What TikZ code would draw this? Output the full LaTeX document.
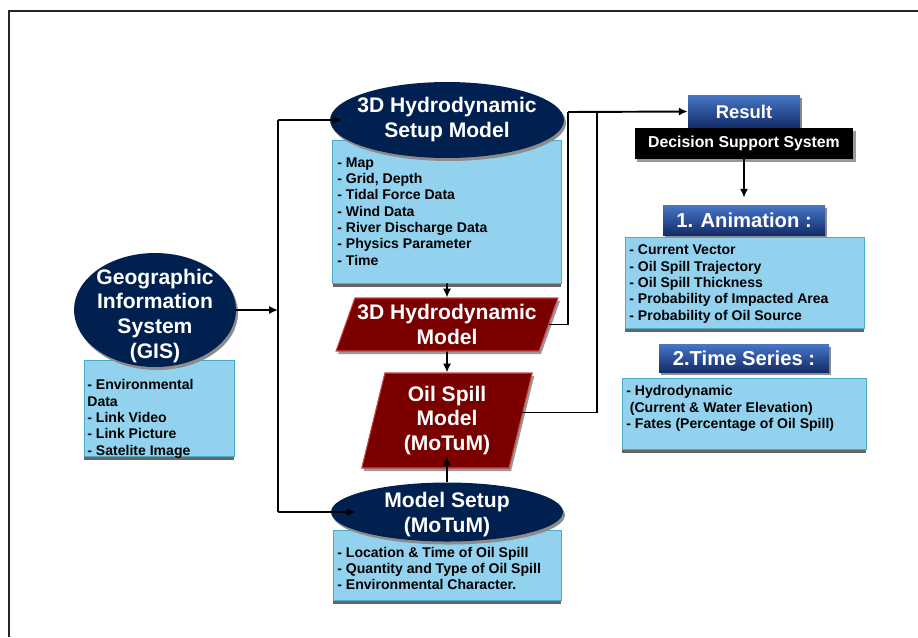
\documentclass[tikz,border=0pt]{standalone}
\usepackage{fontspec}
\setmainfont{Liberation Sans}
\usetikzlibrary{shapes.geometric,shadows,arrows.meta}

\definecolor{navy}{RGB}{0,33,80}
\definecolor{listblue}{RGB}{146,210,238}
\definecolor{listedge}{RGB}{75,172,198}
\definecolor{oilred}{RGB}{122,0,0}
\definecolor{oiledge}{RGB}{205,70,70}
\definecolor{headtop}{RGB}{72,118,200}
\definecolor{headbot}{RGB}{18,44,104}

\tikzset{
  navyell/.style={ellipse, fill=navy, inner sep=0pt,
    drop shadow={shadow xshift=0.04cm, shadow yshift=-0.06cm, fill=black!45, opacity=1}},
  title/.style={text=white, font=\fontsize{12}{14.2}\selectfont\bfseries, align=center, inner sep=0pt},
  listbox/.style={rectangle, fill=listblue, draw=listedge, line width=0.5pt,
    drop shadow={shadow xshift=0cm, shadow yshift=-0.08cm, fill=black!60, opacity=1}},
  listtext/.style={font=\fontsize{8}{9.3}\selectfont\bfseries, align=left, anchor=west, inner sep=0pt},
  para/.style={trapezium, trapezium stretches=true, fill=oilred, draw=oiledge, line width=0.6pt,
    inner sep=0pt, text=white, font=\fontsize{12}{14.2}\selectfont\bfseries, align=center,
    drop shadow={shadow xshift=0.04cm, shadow yshift=-0.06cm, fill=black!40, opacity=1}},
  header/.style={rectangle, top color=headtop, bottom color=headbot, text=white, inner sep=0pt,
    drop shadow={shadow xshift=0.04cm, shadow yshift=-0.05cm, fill=black!45, opacity=1}},
  line/.style={line width=1.1pt},
  link/.style={line width=1.1pt, ->, >={Latex[length=5pt,width=4.6pt]}}
}

\begin{document}
\begin{tikzpicture}[x=0.02cm, y=-0.02cm]
\useasboundingbox (0,0) rectangle (918,637);
\draw[line width=1.2pt, black!85] (9,637) |- (918,11);

% input boxes first, the ellipses lie over their top edge
\node[listbox, minimum width=3.0cm, minimum height=1.92cm] (gisbox) at (159,408) {};
\node[listbox, minimum width=4.58cm, minimum height=2.86cm] (setupbox) at (447,211.5) {};
\node[listbox, minimum width=4.56cm, minimum height=1.40cm] (msetupbox) at (447,565) {};

\node[navyell, minimum width=3.24cm, minimum height=2.28cm] (gis) at (155,310) {};
\node[title] (gistxt) at (155,316) {Geographic\\Information\\System\\(GIS)};
\node[navyell, minimum width=4.68cm, minimum height=1.52cm] (setupell) at (447,120) {};
\node[title] (setuptxt) at (447,120) {3D Hydrodynamic\\Setup Model};
\node[navyell, minimum width=4.64cm, minimum height=1.18cm] (msetupell) at (447,512) {};
\node[title] (msetuptxt) at (447,515) {Model Setup\\(MoTuM)};

\node[listtext] (gislist) at (87,419) {- Environmental\\Data\\- Link Video\\- Link Picture\\- Satelite Image};
\node[listtext] (setuplist) at (337,211.5) {- Map\\- Grid, Depth\\- Tidal Force Data\\- Wind Data\\- River Discharge Data\\- Physics Parameter\\- Time};
\node[listtext] (msetuplist) at (337,568.5) {- Location \& Time of Oil Spill\\- Quantity and Type of Oil Spill\\- Environmental Character.};

% models
\node[para, minimum width=4.44cm, minimum height=1.06cm,
  trapezium left angle=65.6, trapezium right angle=114.4] (hydro) at (447,324.5) {3D Hydrodynamic\\Model};
\node[para, minimum width=3.42cm, minimum height=1.90cm,
  trapezium left angle=77, trapezium right angle=103] (oil) at (447,420.5) {Oil Spill\\Model\\(MoTuM)};

% results column
\node[header, minimum width=2.24cm, minimum height=0.66cm, font=\fontsize{10.5}{12}\selectfont\bfseries] (result) at (744,111.5) {Result};
\node[rectangle, fill=black, text=white, inner sep=0pt, minimum width=4.38cm, minimum height=0.62cm,
  font=\fontsize{9}{10}\selectfont\bfseries,
  drop shadow={shadow xshift=0.05cm, shadow yshift=-0.05cm, fill=black!40, opacity=1}] (decision) at (744,143.5) {Decision Support System};
\node[header, minimum width=3.24cm, minimum height=0.60cm, font=\fontsize{11.5}{13}\selectfont\bfseries] (animhead) at (744,220) {1. Animation :};
\node[listbox, minimum width=4.78cm, minimum height=1.82cm] (animbox) at (744.5,282.5) {};
\node[listtext] (animlist) at (629,284) {- Current Vector\\- Oil Spill Trajectory\\- Oil Spill Thickness\\- Probability of Impacted Area\\- Probability of Oil Source};
\node[header, minimum width=3.40cm, minimum height=0.56cm, font=\fontsize{11.5}{13}\selectfont\bfseries] (tshead) at (744,358) {2.Time Series :};
\node[listbox, minimum width=4.88cm, minimum height=1.42cm] (tsbox) at (744,413.5) {};
\node[listtext] (tslist) at (626,408.5) {- Hydrodynamic\\\hspace{2pt}(Current \& Water Elevation)\\- Fates (Percentage of Oil Spill)};

% connectors
\coordinate (busin) at (278,310);
\coordinate (bustop) at (278,120);
\coordinate (busbot) at (278,512);
\coordinate (outtop) at (568,112);
\coordinate (outjoin) at (597,112);

\draw[link] (gis.east) -- (busin);
\draw[line] (bustop) -- (busbot);
\draw[link, shorten >=-0.24cm] (bustop) -- (setupell.west);
\draw[link, shorten >=-0.5cm] (busbot) -- (msetupell.west);
\draw[link] (setupbox.south) -- (hydro.north);
\draw[link] (hydro.south) -- (oil.north);
\draw[link, shorten >=-0.24cm] (msetupell.north) -- (oil.south);
\draw[line] (hydro.east) -| (outtop);
\draw[line] ([yshift=0.16cm]oil.east) -| (outjoin);
\draw[link] (outtop) -- (result.west);
\draw[link, shorten >=0.14cm] (decision.south) -- (animhead.north);
\end{tikzpicture}
\end{document}
